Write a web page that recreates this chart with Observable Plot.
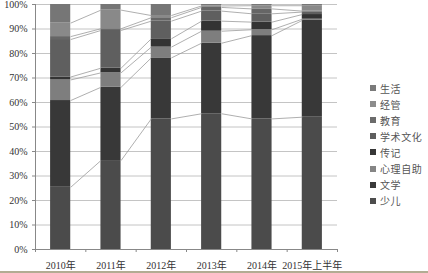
<!DOCTYPE html>
<html>
<head>
<meta charset="utf-8">
<script src="https://cdn.jsdelivr.net/npm/d3@7"></script>
<script src="https://cdn.jsdelivr.net/npm/@observablehq/plot@0.6"></script>
<style>
  html, body { margin: 0; padding: 0; background: #fff; }
  #wrap { position: relative; width: 428px; height: 273px; overflow: hidden; }
  #legend { position: absolute; left: 370px; top: 80px; font-family: 'Liberation Serif', 'Noto Sans CJK SC', serif; font-size: 10px; color: #555; letter-spacing: 0.6px; }
  #legend .row { display: flex; align-items: center; height: 16.1px; white-space: nowrap; }
  #legend .sw { width: 6px; height: 6px; margin-right: 4px; }
  #bottomline { position: absolute; left: 0; top: 271px; width: 428px; height: 1.5px; background: #b2ac93; }
</style>
</head>
<body>
<div id="wrap"></div>
<script>
const years = ["2010年", "2011年", "2012年", "2013年", "2014年", "2015年上半年"];
// stacking order, bottom to top
const categories = ["少儿", "文学", "心理自助", "传记", "学术文化", "教育", "经管", "生活"];
const colors = ["#4b4b4b", "#383838", "#7e7e7e", "#333333", "#5f5f5f", "#666666", "#898989", "#767676"];
const legendColors = ["#4d4d4d", "#3a3a3a", "#858585", "#363636", "#5e5e5e", "#6b6b6b", "#8c8c8c", "#7a7a7a"];

const shaoer   = [25.4, 36.3, 53.3, 55.4, 53.3, 54.0];
const wenxue   = [35.4, 29.9, 24.9, 28.8, 34.0, 39.5];
const xinli    = [ 8.4,  5.9,  4.4,  4.9,  2.4,  0.5];
const zhuanji  = [ 1.2,  1.9,  3.4,  4.1,  3.1,  1.9];
const xueshu   = [15.3, 15.4,  7.2,  4.1,  3.4,  1.0];
const jiaoyu   = [ 1.2,  0.7,  1.4,  1.5,  2.0,  0.4];
const jingguan = [ 5.5,  7.6,  0.9,  0.6,  1.3,  2.2];
const shenghuo = [ 7.6,  2.3,  4.5,  0.6,  0.5,  0.5];

const series = [shaoer, wenxue, xinli, zhuanji, xueshu, jiaoyu, jingguan, shenghuo];

// normalise each year to 100% and stack
const rows = [];
const tops = years.map(() => []);
years.forEach((yr, i) => {
  const total = d3.sum(series, s => s[i]);
  let acc = 0;
  series.forEach((s, k) => {
    const v = s[i] / total * 100;
    rows.push({i, cat: categories[k], y1: acc, y2: acc + v});
    acc += v;
    tops[i].push(acc);
  });
});
const links = [];
for (let i = 0; i < years.length - 1; i++) {
  for (let k = 0; k < categories.length - 1; k++) {
    links.push({i, a: tops[i][k], b: tops[i + 1][k]});
  }
}

const half = 0.2;
const font = "'Liberation Serif', 'Noto Sans CJK SC', serif";

const chart = Plot.plot({
  width: 428,
  height: 273,
  marginLeft: 35,
  marginRight: 91,
  marginTop: 4,
  marginBottom: 24,
  style: {fontFamily: font, fontSize: "10px", color: "#333", background: "transparent"},
  x: {type: "linear", domain: [-0.5, years.length - 0.5], axis: null},
  y: {domain: [0, 100], axis: null},
  color: {domain: categories, range: colors},
  marks: [
    Plot.gridY(d3.range(10, 101, 10), {stroke: "#c4c4c4", strokeOpacity: 1, strokeWidth: 1}),
    Plot.rect(rows, {x1: d => d.i - half, x2: d => d.i + half, y1: "y1", y2: "y2", fill: "cat"}),
    Plot.link(links, {x1: d => d.i + half, x2: d => d.i + 1 - half, y1: "a", y2: "b", stroke: "#9a9a9a", strokeWidth: 0.8}),
    Plot.ruleX([-0.5], {stroke: "#888", strokeWidth: 1}),
    Plot.ruleY([0], {stroke: "#888", strokeWidth: 1}),
    Plot.axisY({ticks: d3.range(0, 101, 10), tickFormat: d => d + "%", tickSize: 3, tickPadding: 5, stroke: "#888", fill: "#333"}),
    Plot.axisX({ticks: d3.range(-0.5, years.length, 1), tickFormat: () => "", tickSize: 3, stroke: "#888"}),
    Plot.axisX({ticks: d3.range(0, years.length), tickFormat: i => years[i], tickSize: 0, tickPadding: 12, fill: "#333"})
  ]
});

const wrap = document.getElementById("wrap");
wrap.appendChild(chart);

const legend = document.createElement("div");
legend.id = "legend";
for (let k = categories.length - 1; k >= 0; k--) {
  const row = document.createElement("div");
  row.className = "row";
  const sw = document.createElement("span");
  sw.className = "sw";
  sw.style.background = legendColors[k];
  const t = document.createElement("span");
  t.textContent = categories[k];
  row.appendChild(sw);
  row.appendChild(t);
  legend.appendChild(row);
}
wrap.appendChild(legend);
const bl = document.createElement("div");
bl.id = "bottomline";
wrap.appendChild(bl);
</script>
</body>
</html>
